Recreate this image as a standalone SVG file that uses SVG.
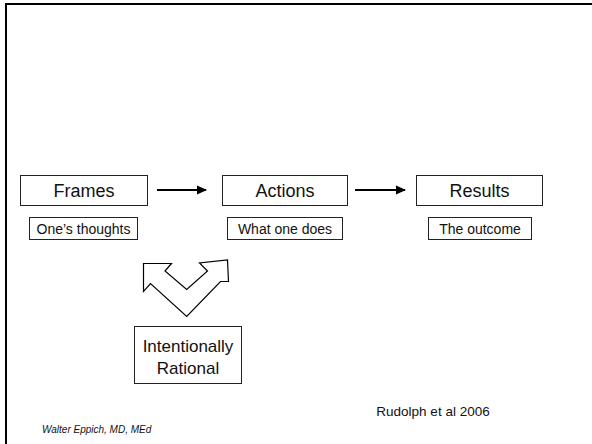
<svg xmlns="http://www.w3.org/2000/svg" width="592" height="444" viewBox="0 0 592 444">
<style>
.box{fill:#fff;stroke:#222;stroke-width:1}
.t{font-family:"Liberation Sans",Arial,sans-serif;fill:#111;text-anchor:middle}
.big{font-size:18px}
.sm{font-size:14px}
.conn{stroke:#000;stroke-width:2;fill:none}
</style>
<defs>
<marker id="ah" markerWidth="11" markerHeight="11" refX="9" refY="5.5" orient="auto" markerUnits="userSpaceOnUse">
<path d="M0,1 L10,5.5 L0,10 Z" fill="#000"/>
</marker>
</defs>
<rect width="592" height="444" fill="#fff"/>
<path d="M6,444 V4 H592" fill="none" stroke="#000" stroke-width="2"/>
<g id="frames">
<rect class="box" x="20.5" y="175.5" width="127" height="30"/>
<text class="t big" x="84" y="197">Frames</text>
</g>
<g id="thoughts">
<rect class="box" x="29.5" y="217.5" width="108" height="22"/>
<text class="t sm" x="83.5" y="233.5">One’s thoughts</text>
</g>
<g id="actions">
<rect class="box" x="222.5" y="175.5" width="125" height="30"/>
<text class="t big" x="285" y="197">Actions</text>
</g>
<g id="does">
<rect class="box" x="227.5" y="217.5" width="115" height="22"/>
<text class="t sm" x="285" y="233.5">What one does</text>
</g>
<g id="results">
<rect class="box" x="416.5" y="175.5" width="126" height="30"/>
<text class="t big" x="479.5" y="197">Results</text>
</g>
<g id="outcome">
<rect class="box" x="428.5" y="217.5" width="103" height="22"/>
<text class="t sm" x="480" y="233.5">The outcome</text>
</g>
<g id="chevron">
<path d="M143.5,263.5 L171.5,263.5 L165,271 L186.7,289.5 L207.5,271 L199.5,263 L227.5,260 L228.5,281.5 L220.5,281.5 L186.7,316.5 L150.5,283.5 L143.5,291.5 Z" fill="#fff" stroke="#000" stroke-width="1.2" stroke-linejoin="miter"/>
</g>
<g id="rational">
<rect class="box" x="134.5" y="326.5" width="107" height="57"/>
<text class="t" font-size="17" x="188" y="352">Intentionally</text>
<text class="t" font-size="17" x="188" y="374">Rational</text>
</g>
<g id="connectors">
<line class="conn" x1="157" y1="190" x2="206" y2="190" marker-end="url(#ah)"/>
<line class="conn" x1="355" y1="190" x2="405" y2="190" marker-end="url(#ah)"/>
</g>
<text class="t" font-size="13.5" x="433" y="416">Rudolph et al 2006</text>
<text font-family="'Liberation Sans',Arial,sans-serif" font-style="italic" font-size="10" x="42" y="433" fill="#111">Walter Eppich, MD, MEd</text>
</svg>
